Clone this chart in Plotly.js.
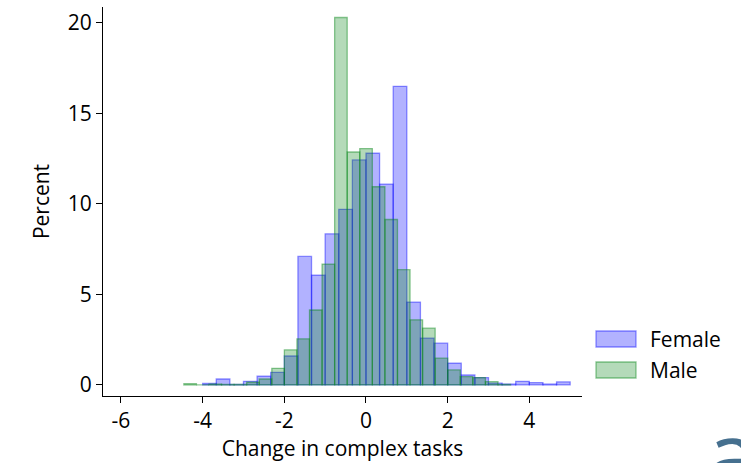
<!DOCTYPE html>
<html>
<head>
<meta charset="utf-8">
<script src="https://cdn.plot.ly/plotly-3.0.1.min.js"></script>
<style>
html,body{margin:0;padding:0;background:#fff;}
#chart{width:741px;height:463px;}
</style>
</head>
<body>
<div id="chart"></div>
<script>
// ---- Data ----
const seriesNames = ["Female", "Male"];
// Female histogram: bins start at -4, width 1/3
const femaleBinStart = -4;
const femaleBinWidth = 1 / 3;
const femalePercent = [0.08, 0.33, 0.03, 0.2, 0.48, 0.7, 1.6, 7.1, 6.06, 8.35, 9.7, 12.43, 12.8, 11.1, 16.5, 4.58, 2.59, 2.31, 1.2, 0.55, 0.41, 0.1, 0.05, 0.2, 0.13, 0.05, 0.17];
// Male histogram: bins start at -4.46, width ~0.3077
const maleBinStart = -4.46;
const maleBinWidth = 0.3077;
const malePercent = [0.07, 0.0, 0.05, 0.03, 0.03, 0.15, 0.33, 0.92, 1.94, 2.55, 4.14, 6.68, 20.3, 12.87, 13.06, 10.95, 9.14, 6.37, 3.6, 3.14, 1.48, 0.83, 0.46, 0.41, 0.18, 0.03];
const xTicks = [-6, -4, -2, 0, 2, 4];
const yTicks = [0, 5, 10, 15, 20];
const xTitle = "Change in complex tasks";
const yTitle = "Percent";

// ---- Styles ----
const femaleFill = "rgba(0,0,255,0.3)";
const femaleLine = "rgba(0,0,255,0.42)";
const maleFill = "rgba(5,132,22,0.3)";
const maleLine = "rgba(5,132,22,0.45)";
const fontFam = "Open Sans, sans-serif";

function centers(start, w, n) {
  const c = [];
  for (let i = 0; i < n; i++) c.push(start + w * (i + 0.5));
  return c;
}

const traces = [
  {
    type: "bar", name: seriesNames[0],
    x: centers(femaleBinStart, femaleBinWidth, femalePercent.length),
    y: femalePercent, width: femaleBinWidth,
    marker: {color: femaleFill, line: {color: femaleLine, width: 1.3}},
    showlegend: false, hoverinfo: "x+y"
  },
  {
    type: "bar", name: seriesNames[1],
    x: centers(maleBinStart, maleBinWidth, malePercent.length),
    y: malePercent, width: maleBinWidth,
    marker: {color: maleFill, line: {color: maleLine, width: 1.3}},
    showlegend: false, hoverinfo: "x+y"
  }
];

const W = 741, H = 463;
const L = 103, R = 159, T = 7, B = 67;
const plotW = W - L - R, plotH = H - T - B;
function pxX(x) { return (x - L) / plotW; }
function pxY(y) { return (H - B - y) / plotH; }

// custom legend (wide swatches like the reference)
const lx0 = 596, lx1 = 636;
const legendItems = [
  {name: seriesNames[0], fill: femaleFill, line: femaleLine, y0: 331, y1: 347},
  {name: seriesNames[1], fill: maleFill, line: maleLine, y0: 362, y1: 378}
];

const layout = {
  width: W, height: H,
  margin: {l: L, r: R, t: T, b: B},
  paper_bgcolor: "#fff", plot_bgcolor: "#fff",
  barmode: "overlay", bargap: 0,
  showlegend: false,
  font: {family: fontFam, size: 21, color: "#000"},
  xaxis: {
    range: [-6.44, 5.29], tickvals: xTicks, ticktext: xTicks.map(String),
    showgrid: false, zeroline: false, showline: true, linecolor: "#000", linewidth: 1,
    ticks: "outside", ticklen: 6, tickcolor: "#000",
    tickfont: {family: fontFam, size: 21},
    title: {text: xTitle, font: {family: fontFam, size: 21}, standoff: 6}
  },
  yaxis: {
    range: [-0.61, 20.88], tickvals: yTicks, ticktext: yTicks.map(String),
    showgrid: false, zeroline: false, showline: true, linecolor: "#000", linewidth: 1,
    ticks: "outside", ticklen: 6, tickcolor: "#000",
    tickfont: {family: fontFam, size: 21},
    title: {text: yTitle, font: {family: fontFam, size: 21}, standoff: 12}
  },
  shapes: legendItems.map(it => ({
    type: "rect", xref: "paper", yref: "paper",
    x0: pxX(lx0), x1: pxX(lx1),
    y0: pxY(it.y1), y1: pxY(it.y0),
    fillcolor: it.fill, line: {color: it.line, width: 1.3}
  })),
  annotations: legendItems.map(it => ({
    xref: "paper", yref: "paper",
    x: pxX(648), y: pxY((it.y0 + it.y1) / 2),
    xanchor: "left", yanchor: "middle", showarrow: false,
    text: it.name, font: {family: fontFam, size: 21, color: "#000"}
  })).concat([{
    xref: "paper", yref: "paper",
    x: pxX(705), y: pxY(389),
    xanchor: "left", yanchor: "top", showarrow: false,
    text: "a", font: {family: fontFam, size: 90, color: "#46708f"}
  }])
};

Plotly.newPlot("chart", traces, layout, {displayModeBar: false, staticPlot: true});
</script>
</body>
</html>
